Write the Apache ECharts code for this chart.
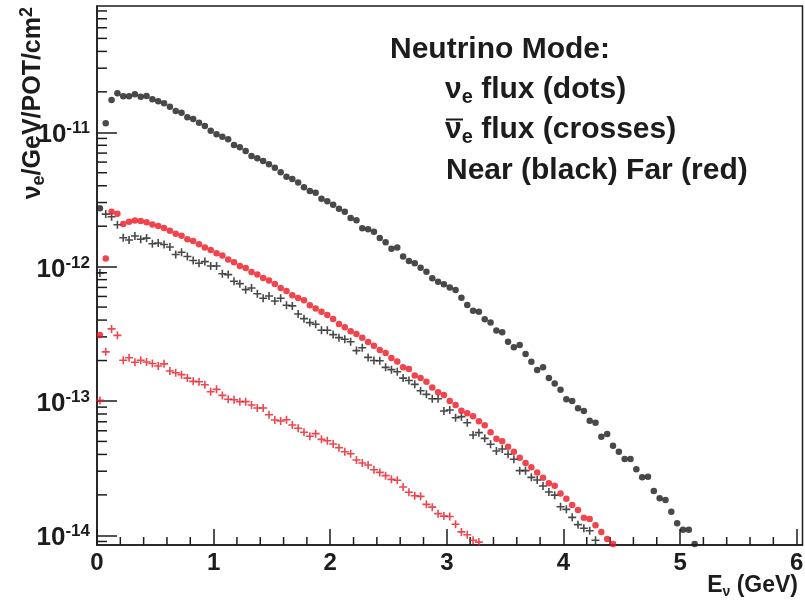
<!DOCTYPE html>
<html>
<head>
<meta charset="utf-8">
<script src="https://cdn.jsdelivr.net/npm/echarts@6/dist/echarts.min.js"></script>
<style>
  html, body { margin: 0; padding: 0; background: #fff; }
  #main { width: 805px; height: 604px; }
</style>
</head>
<body>
<div id="main"></div>
<script>
// flux values in units of 1e-14 /GeV/POT/cm^2, 0.05 GeV bins starting at 0.025 GeV
const UNIT = 1e-14;
const FIRST_E = 0.025;
const BIN_W = 0.05;

const nearNue = [272, 1167, 1740, 1950, 1853, 1853, 1918, 1841, 1862, 1761,
  1701, 1644, 1551, 1440, 1400, 1293, 1256, 1179, 1114, 1028,
  966, 927, 887, 804, 773, 726, 666, 640, 611, 578,
  545, 504, 467, 449, 422, 390, 366, 355, 320, 306,
  289, 270, 256, 230, 221, 193, 190, 182, 163, 152,
  136, 139, 119, 110, 106, 98.2, 91.7, 81.9, 77.3, 73.9,
  70.0, 67.0, 58.7, 51.8, 47.0, 46.2, 40.6, 38.3, 33.4, 32.5,
  27.6, 25.1, 26.1, 22.4, 19.6, 17.0, 17.8, 14.8, 13.5, 12.1,
  10.3, 10.0, 8.82, 8.42, 7.13, 6.89, 5.42, 5.68, 4.65, 4.19,
  3.70, 3.70, 3.10, 2.70, 2.73, 2.14, 1.89, 1.83, 1.50, 1.23,
  1.10, 1.10, 0.86];

const farNue = [31.0, 115, 256, 248, 208, 216, 220, 219, 214, 206,
  201, 194, 185, 176, 170, 160, 155, 147, 139, 133,
  126, 121, 113, 108, 101, 97.7, 91.3, 87.2, 82.4, 78.9,
  74.3, 69.4, 65.9, 61.2, 58.5, 56.2, 51.6, 48.7, 46.2, 43.7,
  40.8, 37.4, 35.4, 33.1, 31.5, 29.6, 27.5, 25.8, 24.0, 22.8,
  20.9, 19.7, 17.8, 17.3, 15.5, 14.8, 13.9, 12.6, 11.6, 11.1,
  10.0, 9.33, 8.46, 8.10, 7.69, 7.06, 6.59, 5.85, 5.24, 5.01,
  4.57, 4.19, 3.78, 3.45, 3.21, 2.94, 2.68, 2.44, 2.34, 2.05,
  1.87, 1.68, 1.54, 1.35, 1.32, 1.19, 1.06, 0.94, 0.86];

const nearNuebar = [89.7, 246, 235, 205, 164, 158, 169, 160, 163, 148,
  150, 146, 140, 123, 128, 119, 111, 106, 109, 101,
  101, 88.6, 87.2, 77.8, 74.7, 67.4, 69.4, 62.9, 58.2, 60.5,
  55.5, 58.2, 51.6, 51.0, 44.4, 41.0, 38.3, 37.2, 33.6, 33.6,
  31.2, 29.6, 28.8, 27.6, 23.7, 24.9, 21.1, 20.0, 19.9, 17.8,
  17.1, 16.5, 14.8, 14.2, 13.3, 11.9, 11.2, 10.4, 10.4, 8.42,
  8.57, 7.51, 7.64, 6.89, 5.58, 5.81, 5.27, 4.76, 4.24, 4.39,
  4.01, 3.68, 3.03, 3.03, 2.70, 2.58, 2.33, 2.10, 1.99, 1.63,
  1.56, 1.36, 1.20, 1.13, 1.08, 0.92];

const farNuebar = [10.1, 23.2, 34.4, 30.8, 20.1, 21.0, 19.4, 20.1, 19.5, 19.0,
  18.2, 18.9, 16.7, 16.2, 15.7, 14.8, 14.0, 13.9, 13.2, 11.7,
  12.2, 11.0, 10.3, 10.2, 9.88, 9.88, 9.33, 8.86, 8.86, 7.89,
  7.22, 7.09, 7.25, 6.62, 6.26, 5.85, 5.46, 5.71, 5.18, 5.06,
  4.78, 4.49, 4.19, 4.05, 3.64, 3.45, 3.34, 3.08, 2.94, 2.78,
  2.61, 2.57, 2.29, 2.09, 1.97, 1.95, 1.70, 1.62, 1.45, 1.39,
  1.38, 1.21, 1.06, 1.01, 0.92, 0.89];

// axis ranges and minor tick positions
const xMin = 0, xMax = 6.05;
const yMin = 0.847e-14, yMax = 8.71e-11;
const xMinorTicks = [0.2, 0.4, 0.6, 0.8, 1.2, 1.4, 1.6, 1.8, 2.2, 2.4, 2.6, 2.8,
  3.2, 3.4, 3.6, 3.8, 4.2, 4.4, 4.6, 4.8, 5.2, 5.4, 5.6, 5.8];
const yMinorMantissa = [2, 3, 4, 5, 6, 7, 8, 9];
const yMinorDecades = [-15, -14, -13, -12, -11];

const FONT = '"Liberation Sans", Arial, sans-serif';
const INK = '#1c1c1c';
const RED = '#ec1620';

function toPoints(vals) {
  return vals.map((v, k) => [+(FIRST_E + k * BIN_W).toFixed(3), v * UNIT]);
}

let yMinor = [];
yMinorDecades.forEach(d => yMinorMantissa.forEach(m => {
  let v = m * Math.pow(10, d);
  if (v > yMin && v < yMax) yMinor.push([xMin, v]);
}));
let xMinor = xMinorTicks.map(e => [e, yMin]);

const crossPath = 'path://M0,3.2H3.2V0H4.8V3.2H8V4.8H4.8V8H3.2V4.8H0Z';

let myChart = echarts.init(document.getElementById('main'));
let option = {
  animation: false,
  backgroundColor: '#fff',
  grid: {
    left: 97, top: 6, right: 2.5, bottom: 59,
    show: true, borderColor: INK, borderWidth: 1.5,
    containLabel: false, outerBoundsMode: 'none'
  },
  xAxis: {
    type: 'value',
    min: xMin, max: xMax, interval: 1,
    splitLine: { show: false },
    axisLine: { lineStyle: { color: INK, width: 1.5 } },
    axisTick: { inside: true, length: 16, lineStyle: { color: INK, width: 1.5 } },
    axisLabel: {
      color: INK, fontSize: 24, fontWeight: 'bold', fontFamily: FONT,
      margin: 6, showMaxLabel: false
    }
  },
  yAxis: {
    type: 'log', logBase: 10,
    min: yMin, max: yMax,
    splitLine: { show: false },
    axisLine: { lineStyle: { color: INK, width: 1.5 } },
    axisTick: { inside: true, length: 20, lineStyle: { color: INK, width: 1.5 } },
    axisLabel: {
      margin: 7, showMinLabel: false, showMaxLabel: false,
      padding: [6, 0, 0, 0],
      formatter: function (v) {
        let e = Math.round(Math.log10(v));
        return '{b|10}{s|' + e + '}';
      },
      rich: {
        b: { fontSize: 26, fontWeight: 'bold', fontFamily: FONT, color: INK, lineHeight: 30 },
        s: { fontSize: 17, fontWeight: 'bold', fontFamily: FONT, color: INK, verticalAlign: 'top', lineHeight: 14 }
      }
    }
  },
  graphic: [
    {
      type: 'text', left: 390, top: 35,
      style: { text: 'Neutrino Mode:', font: 'bold 30px ' + FONT, fill: INK }
    },
    {
      type: 'text', left: 445, top: 75,
      style: {
        text: '{g|\u03bd}{sub|e}{t| flux (dots)}',
        rich: {
          g: { font: 'bold 30px ' + FONT, fill: INK, lineHeight: 34 },
          sub: { font: 'bold 20px ' + FONT, fill: INK, verticalAlign: 'bottom', lineHeight: 16 },
          t: { font: 'bold 30px ' + FONT, fill: INK, lineHeight: 34 }
        }
      }
    },
    {
      type: 'text', left: 445, top: 115,
      style: {
        text: '{g|\u03bd}{sub|e}{t| flux (crosses)}',
        rich: {
          g: { font: 'bold 30px ' + FONT, fill: INK, lineHeight: 34 },
          sub: { font: 'bold 20px ' + FONT, fill: INK, verticalAlign: 'bottom', lineHeight: 16 },
          t: { font: 'bold 30px ' + FONT, fill: INK, lineHeight: 34 }
        }
      }
    },
    {
      // bar over the antineutrino symbol
      type: 'line', shape: { x1: 446, y1: 119.5, x2: 463, y2: 119.5 },
      style: { stroke: INK, lineWidth: 2 }
    },
    {
      type: 'text', left: 446, top: 156,
      style: { text: 'Near (black) Far (red)', font: 'bold 30px ' + FONT, fill: INK }
    },
    {
      type: 'text', x: 33, y: 7, rotation: Math.PI / 2,
      style: {
        text: '{t|\u03bd}{sub|e}{t|/GeV/POT/cm}{sup|2}',
        align: 'right', verticalAlign: 'middle',
        rich: {
          t: { font: 'bold 25px ' + FONT, fill: INK, lineHeight: 30 },
          sub: { font: 'bold 18px ' + FONT, fill: INK, verticalAlign: 'bottom', lineHeight: 14 },
          sup: { font: 'bold 18px ' + FONT, fill: INK, verticalAlign: 'top', lineHeight: 14 }
        }
      }
    },
    {
      type: 'text', x: 798, y: 586,
      style: {
        text: '{t|E}{sub|\u03bd}{t| (GeV)}',
        align: 'right', verticalAlign: 'middle',
        rich: {
          t: { font: 'bold 23px ' + FONT, fill: INK, lineHeight: 26 },
          sub: { font: 'bold 14px ' + FONT, fill: INK, verticalAlign: 'bottom', lineHeight: 12 }
        }
      }
    }
  ],
  series: [
    {
      name: 'y minor ticks', type: 'custom', data: yMinor, silent: true, z: 1,
      renderItem: function (params, api) {
        let p = api.coord([api.value(0), api.value(1)]);
        return { type: 'line', shape: { x1: p[0], y1: p[1], x2: p[0] + 10, y2: p[1] },
          style: { stroke: INK, lineWidth: 1.5 } };
      }
    },
    {
      name: 'x minor ticks', type: 'custom', data: xMinor, silent: true, z: 1,
      renderItem: function (params, api) {
        let p = api.coord([api.value(0), api.value(1)]);
        return { type: 'line', shape: { x1: p[0], y1: p[1], x2: p[0], y2: p[1] - 8 },
          style: { stroke: INK, lineWidth: 1.5 } };
      }
    },
    {
      name: 'Near nue', type: 'scatter', data: toPoints(nearNue),
      symbol: 'circle', symbolSize: 6.5, itemStyle: { color: INK }
    },
    {
      name: 'Near nuebar', type: 'scatter', data: toPoints(nearNuebar),
      symbol: crossPath, symbolSize: 8, itemStyle: { color: INK }
    },
    {
      name: 'Far nue', type: 'scatter', data: toPoints(farNue),
      symbol: 'circle', symbolSize: 6.5, itemStyle: { color: RED }
    },
    {
      name: 'Far nuebar', type: 'scatter', data: toPoints(farNuebar),
      symbol: crossPath, symbolSize: 8, itemStyle: { color: RED }
    }
  ]
};
myChart.setOption(option);
</script>
</body>
</html>
